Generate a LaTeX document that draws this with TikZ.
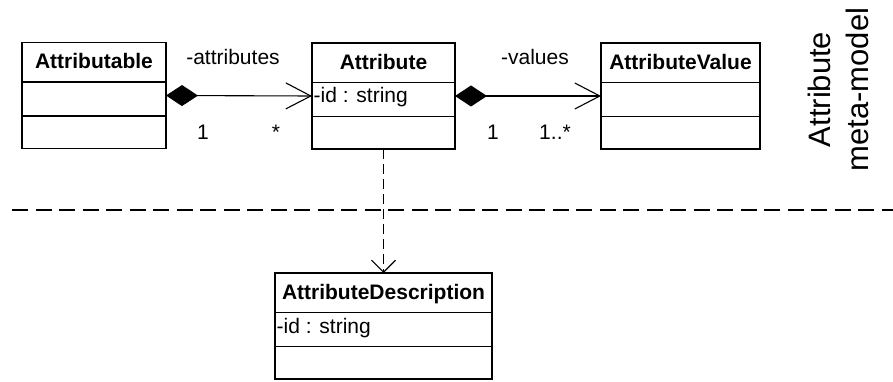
\documentclass[tikz,border=0pt]{standalone}
\usepackage{fontspec}
\setmainfont{Liberation Sans}
\usetikzlibrary{arrows.meta}

\tikzset{
  classbox/.style={draw, line width=1.8pt, outer sep=0pt, inner sep=0pt, minimum height=106pt},
  divider/.style={line width=1.8pt},
  classname/.style={anchor=base, inner sep=0pt, font=\fontsize{21}{25}\selectfont\bfseries},
  member/.style={anchor=base west, inner sep=0pt, font=\fontsize{21}{25}\selectfont},
  assoclabel/.style={anchor=base, inner sep=0pt, font=\fontsize{21}{25}\selectfont},
  composition/.style={line width=1.1pt,
    {Diamond[length=32pt,width=21pt]}-{Straight Barb[length=25pt,width=26pt]}},
  dependency/.style={line width=1.1pt, dash pattern=on 10pt off 5pt,
    -{Straight Barb[length=12pt,width=24pt]}},
  separator/.style={line width=2pt, dash pattern=on 16pt off 7.5pt},
  packagelabel/.style={rotate=90, anchor=north, inner sep=0pt, align=center,
    font=\fontsize{31}{38}\selectfont},
}

% UML class: name, centre, width, class name, attribute line
\newcommand\umlclass[5]{%
  \node[classbox, minimum width=#3] (#1) at (#2) {};
  \draw[divider] ([yshift=-39.5pt]#1.north west) -- ([yshift=-39.5pt]#1.north east);
  \draw[divider] ([yshift=-73.5pt]#1.north west) -- ([yshift=-73.5pt]#1.north east);
  \node[classname] (#1-name) at ([yshift=-26.5pt]#1.north) {#4};
  \node[member] (#1-attr) at ([xshift=1.5pt,yshift=-60pt]#1.north west) {#5};
}

\begin{document}
\begin{tikzpicture}[x=1pt, y=-1pt]
  \useasboundingbox (0,0) rectangle (893,382);

  % classes
  \umlclass{attributable}{94,95.5}{144pt}{Attributable}{}
  \umlclass{attribute}{383.5,96}{143pt}{Attribute}{-id : string}
  \umlclass{attrvalue}{680.5,96}{159pt}{AttributeValue}{}
  \umlclass{attrdesc}{383.5,326}{217pt}{AttributeDescription}{-id : string}

  % compositions
  \draw[composition] (attributable.east) -- (attribute.west);
  \draw[composition] (attribute.east) -- (attrvalue.west);

  % role names and multiplicities
  \node[assoclabel] (roleattrs) at (233,65) {-attributes};
  \node[assoclabel] (multA1) at (203,140) {1};
  \node[assoclabel] (multA2) at (276,140) {*};
  \node[assoclabel] (rolevals) at (535,65) {-values};
  \node[assoclabel] (multV1) at (493,140) {1};
  \node[assoclabel] (multV2) at (555,140) {1..*};

  % dependency on the description
  \draw[dependency] (attribute.south) -- (attrdesc.north);

  % package separator
  \coordinate (sepL) at (12,209.5);
  \coordinate (sepR) at (893,209.5);
  \draw[separator] (sepL) -- (sepR);

  % package caption
  \node[packagelabel] (pkg) at (807.5,89.5) {Attribute\\meta-model};
\end{tikzpicture}
\end{document}
